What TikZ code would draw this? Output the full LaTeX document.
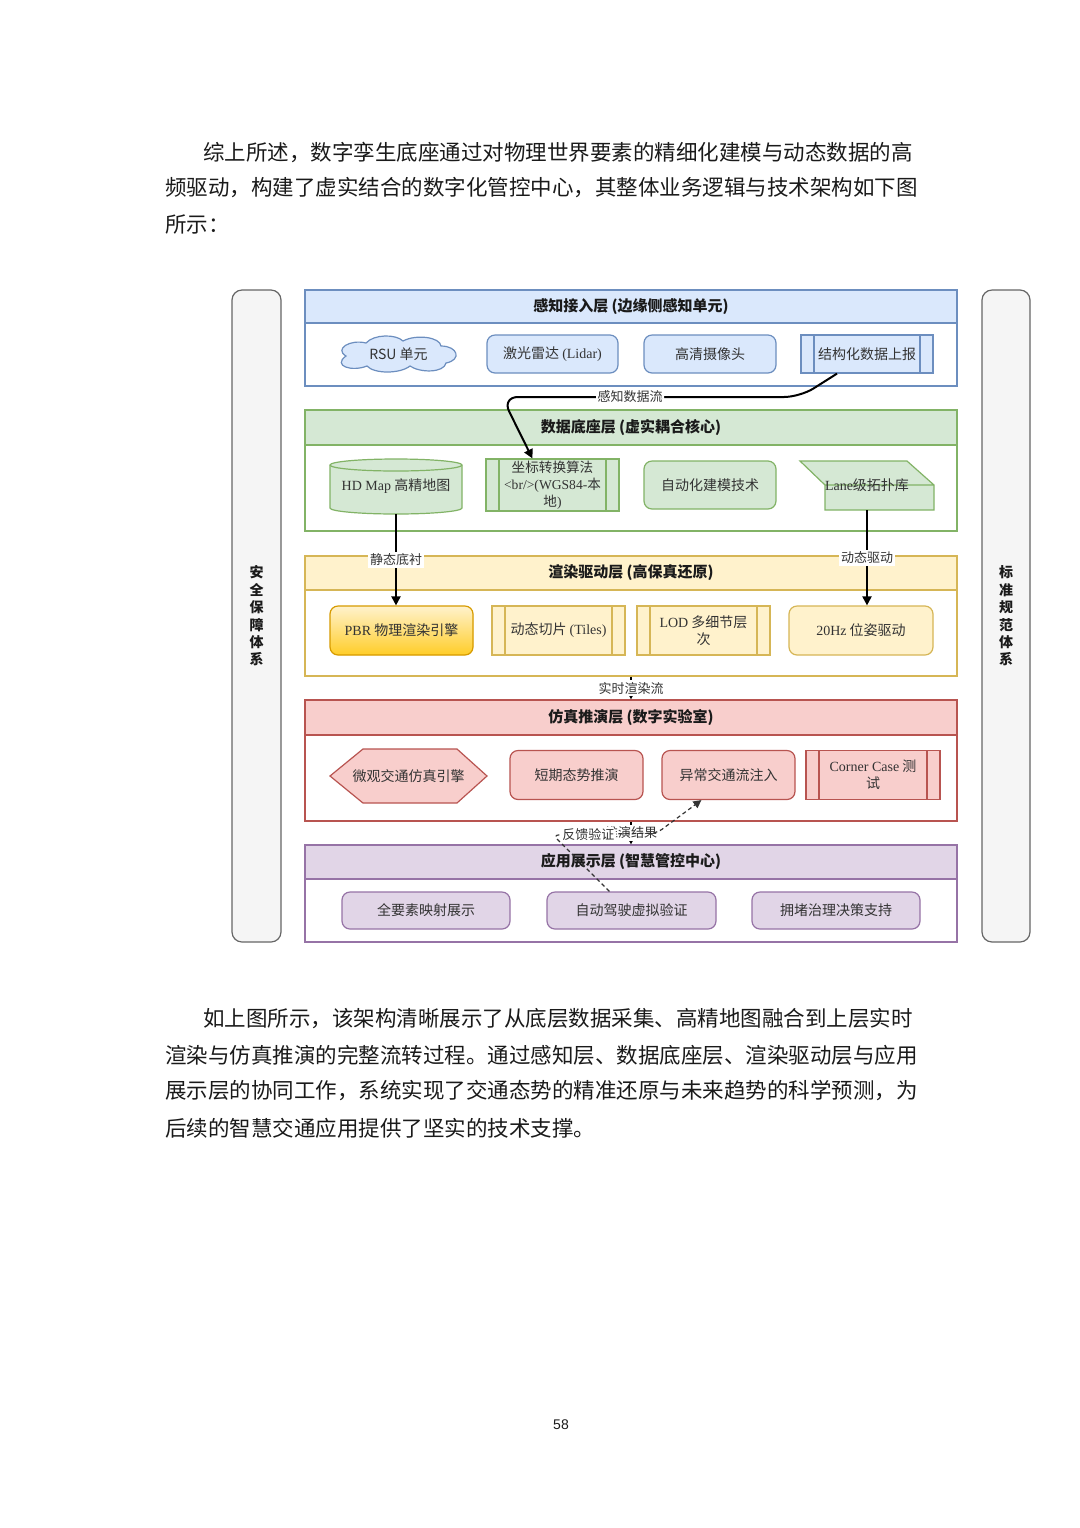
\documentclass[tikz,border=0pt]{standalone}
\usepackage{fontspec}
\setmainfont{Noto Sans CJK SC}
\newfontfamily\latfont{Liberation Serif}
\newfontfamily\pagefont{Liberation Sans}
\newcommand\lat[1]{{\latfont #1}}
\newcommand\itemfont{\fontsize{7}{8.5}\selectfont}
\usepackage{tikz}
\usetikzlibrary{arrows.meta,positioning,calc}
\definecolor{cBlueF}{HTML}{DAE8FC}
\definecolor{cBlueD}{HTML}{6C8EBF}
\definecolor{cGreenF}{HTML}{D5E8D4}
\definecolor{cGreenD}{HTML}{82B366}
\definecolor{cYelF}{HTML}{FFF2CC}
\definecolor{cYelD}{HTML}{D6B656}
\definecolor{cRedF}{HTML}{F8CECC}
\definecolor{cRedD}{HTML}{B85450}
\definecolor{cPurF}{HTML}{E1D5E7}
\definecolor{cPurD}{HTML}{9673A6}
\definecolor{cSideF}{HTML}{F5F5F5}
\definecolor{cSideD}{HTML}{666666}
\definecolor{cOrgD}{HTML}{D79B00}
\definecolor{cGold}{HTML}{FFCD28}
\definecolor{cInk}{HTML}{333333}
\definecolor{cText}{HTML}{1A1A1A}
\tikzset{
  para/.style={anchor=west,inner sep=0pt,font=\fontsize{10.75}{12}\selectfont,text=cText},
  laybody/.style={draw=#1,fill=white,line width=0.6pt,minimum width=326pt,inner sep=0pt},
  layhead/.style 2 args={draw=#1,fill=#2,line width=0.6pt,minimum width=326pt,inner sep=0pt,font=\bfseries\fontsize{7.5}{9}\selectfont,text=cText},
  itembox/.style 2 args={draw=#1,fill=#2,rounded corners=4pt,line width=0.6pt,align=center,text=cInk,font=\itemfont,inner sep=1pt},
  procbox/.style 2 args={draw=#1,fill=#2,line width=0.6pt,align=center,text=cInk,font=\itemfont,inner sep=1pt,
    path picture={\draw[#1,line width=0.6pt] ([xshift=6.5pt]path picture bounding box.north west) -- ([xshift=6.5pt]path picture bounding box.south west)
      ([xshift=-6.5pt]path picture bounding box.north east) -- ([xshift=-6.5pt]path picture bounding box.south east);}},
  shapebox/.style 2 args={draw=#1,fill=#2,line width=0.6pt},
  plainbox/.style={align=center,text=cInk,font=\itemfont,inner sep=0pt},
  sidebar/.style={draw=cSideD,fill=cSideF,rounded corners=5pt,line width=0.6pt,minimum height=326pt,align=center,font=\bfseries\fontsize{7}{8.7}\selectfont,text=cText},
  flow/.style={-{Triangle[length=4.5pt,width=4.5pt]},line width=1pt,draw=black},
  fback/.style={-{Triangle[length=4pt,width=4pt]},line width=0.6pt,draw=cInk,dash pattern=on 2pt off 1.5pt},
  lbl/.style={font=\fontsize{6.5}{7}\selectfont,text=cInk,fill=white,inner sep=0.8pt},
}

\begin{document}
\begin{tikzpicture}[x=0.5pt,y=-0.5pt]
  \useasboundingbox (0,0) rectangle (1080,1528);
  % text above and below the figure
  \foreach \x/\y/\t [count=\i] in {
    203/152/{综上所述，数字孪生底座通过对物理世界要素的精细化建模与动态数据的高},
    165/188/{频驱动，构建了虚实结合的数字化管控中心，其整体业务逻辑与技术架构如下图},
    165/224/{所示：},
    203/1019/{如上图所示，该架构清晰展示了从底层数据采集、高精地图融合到上层实时},
    165/1055/{渲染与仿真推演的完整流转过程。通过感知层、数据底座层、渲染驱动层与应用},
    165/1091/{展示层的协同工作，系统实现了交通态势的精准还原与未来趋势的科学预测，为},
    165/1128/{后续的智慧交通应用提供了坚实的技术支撑。}}
    {\node[para] (line\i) at (\x,\y) {\t};}
  \node[font=\pagefont\fontsize{7}{8}\selectfont,text=cText] (pgno) at (561,1425) {58};

  % side bars
  \node[sidebar,minimum width=24.5pt] (safe) at (256.5,616) {安\\全\\保\\障\\体\\系};
  \node[sidebar,minimum width=24pt] (norm) at (1006,616) {标\\准\\规\\范\\体\\系};

  % layers
  \foreach \n/\yb/\hb/\yh/\hh/\cd/\cf/\t in {
    1/338/48/306.5/16.5/cBlueD/cBlueF/{感知接入层 (边缘侧感知单元)},
    2/470.5/60.5/427.5/17.5/cGreenD/cGreenF/{数据底座层 (虚实耦合核心)},
    3/616/60/573/17/cYelD/cYelF/{渲染驱动层 (高保真还原)},
    4/760.5/60.5/717.5/17.5/cRedD/cRedF/{仿真推演层 (数字实验室)},
    5/893.5/48.5/862/17/cPurD/cPurF/{应用展示层 (智慧管控中心)}}{
    \node[laybody=\cd,minimum height=\hb pt] (lay\n) at (631,\yb) {};
    \node[layhead={\cd}{\cf},minimum height=\hh pt] (head\n) at (631,\yh) {\t};
  }

  % perception layer
  \draw[shapebox={cBlueD}{cBlueF}] (346,356) .. controls (334,349) and (350,339) .. (366,343)
    .. controls (374,334) and (396,334) .. (403,341) .. controls (416,334) and (440,337) .. (441,346)
    .. controls (458,346) and (462,360) .. (446,363) .. controls (444,373) and (420,373) .. (410,366)
    .. controls (400,374) and (374,374) .. (367,366) .. controls (352,372) and (332,366) .. (346,356) -- cycle;
  \node[plainbox,minimum width=58pt,minimum height=16pt] (rsu) at (398.5,354) {RSU 单元};
  \node[itembox={cBlueD}{cBlueF},minimum width=65.5pt,minimum height=19pt] (lidar) at (552.5,354) {激光雷达 \lat{(Lidar)}};
  \node[itembox={cBlueD}{cBlueF},minimum width=66pt,minimum height=19pt] (cam) at (710,354) {高清摄像头};
  \node[procbox={cBlueD}{cBlueF},minimum width=66pt,minimum height=19pt] (rep) at (867,354) {结构化数据上报};

  % data base layer
  \coordinate (hdc) at (396,486.5);
  \draw[shapebox={cGreenD}{cGreenF}] ($(hdc)+(-66,-21.5)$) -- ($(hdc)+(-66,21.5)$)
    arc[start angle=180,end angle=360,x radius=33pt,y radius=3pt] -- ($(hdc)+(66,-21.5)$)
    arc[start angle=0,end angle=180,x radius=33pt,y radius=3pt] -- cycle;
  \draw[cGreenD,line width=0.6pt] ($(hdc)+(-66,-21.5)$) arc[start angle=180,end angle=360,x radius=33pt,y radius=3pt];
  \node[plainbox,minimum width=66pt,minimum height=27.5pt] (hdmap) at (hdc) {\lat{HD Map} 高精地图};
  \node[procbox={cGreenD}{cGreenF},minimum width=66.5pt,minimum height=24pt,font=\fontsize{6.8}{8.4}\selectfont] (coord) at (552.5,485)
    {坐标转换算法\\\lat{<br/>(WGS84-}本\\地\lat{)}};
  \node[itembox={cGreenD}{cGreenF},minimum width=66pt,minimum height=24pt] (auto) at (710,485) {自动化建模技术};
  \draw[shapebox={cGreenD}{cGreenF}] (800,461) -- (907,461) -- (934,485) -- (934,510) -- (825,510) -- (825,485) -- cycle
    (825,485) -- (934,485);
  \node[plainbox,minimum width=67pt,minimum height=24.5pt] (lane) at (867,485.5) {\lat{Lane}级拓扑库};

  % render layer
  \node[itembox={cOrgD}{cGold},top color=cYelF,bottom color=cGold,minimum width=71.5pt,minimum height=24.5pt] (pbr) at (401.5,630.5) {\lat{PBR} 物理渲染引擎};
  \node[procbox={cYelD}{cYelF},minimum width=66.5pt,minimum height=24.5pt] (tiles) at (558.5,630.5) {动态切片 \lat{(Tiles)}};
  \node[procbox={cYelD}{cYelF},minimum width=66.5pt,minimum height=24.5pt] (lod) at (703.5,630.5) {\lat{LOD} 多细节层\\次};
  \node[itembox={cYelD}{cYelF},minimum width=72pt,minimum height=24.5pt] (pose) at (861,630.5) {\lat{20Hz} 位姿驱动};

  % simulation layer
  \draw[shapebox={cRedD}{cRedF}] (330,776) -- (363,749) -- (457,749) -- (487,776) -- (457,803) -- (363,803) -- cycle;
  \node[plainbox,minimum width=78.5pt,minimum height=27pt] (micro) at (408.5,776) {微观交通仿真引擎};
  \node[itembox={cRedD}{cRedF},minimum width=66.5pt,minimum height=24.5pt] (short) at (576.5,775) {短期态势推演};
  \node[itembox={cRedD}{cRedF},minimum width=66.5pt,minimum height=24.5pt] (anom) at (728.5,775) {异常交通流注入};
  \node[procbox={cRedD}{cRedF},minimum width=67pt,minimum height=24.5pt] (corner) at (873,775) {\lat{Corner Case} 测\\试};

  % application layer
  \node[itembox={cPurD}{cPurF},minimum width=84pt,minimum height=18.5pt] (allmap) at (426,910.5) {全要素映射展示};
  \node[itembox={cPurD}{cPurF},minimum width=84.5pt,minimum height=18.5pt] (avsim) at (631.5,910.5) {自动驾驶虚拟验证};
  \node[itembox={cPurD}{cPurF},minimum width=84pt,minimum height=18.5pt] (jam) at (836,910.5) {拥堵治理决策支持};

  % flows
  \draw[flow,rounded corners=8pt] ($(rep.south)+(-30,0)$) -- (800,397) -- node[lbl,pos=0.57] {感知数据流} (502,397) -- ($(coord.north west)+(47,0)$);
  \draw[flow] (hdmap.south) -- node[lbl] {静态底衬} (hdmap.south |- pbr.north);
  \draw[flow] (lane.south) -- node[lbl] {动态驱动} (lane.south |- pose.north);
  \draw[flow] (lay3.south) -- node[lbl] {实时渲染流} (lay4.north);
  \draw[flow] (lay4.south) -- node[lbl] {推演结果} (lay5.north);
  \draw[fback,rounded corners=3pt] ($(avsim.north west)+(63,0)$) -- (553,835) -- node[lbl,pos=0.34] {反馈验证} (657,833) -- ($(anom.south west)+(40,0)$);
\end{tikzpicture}
\end{document}
